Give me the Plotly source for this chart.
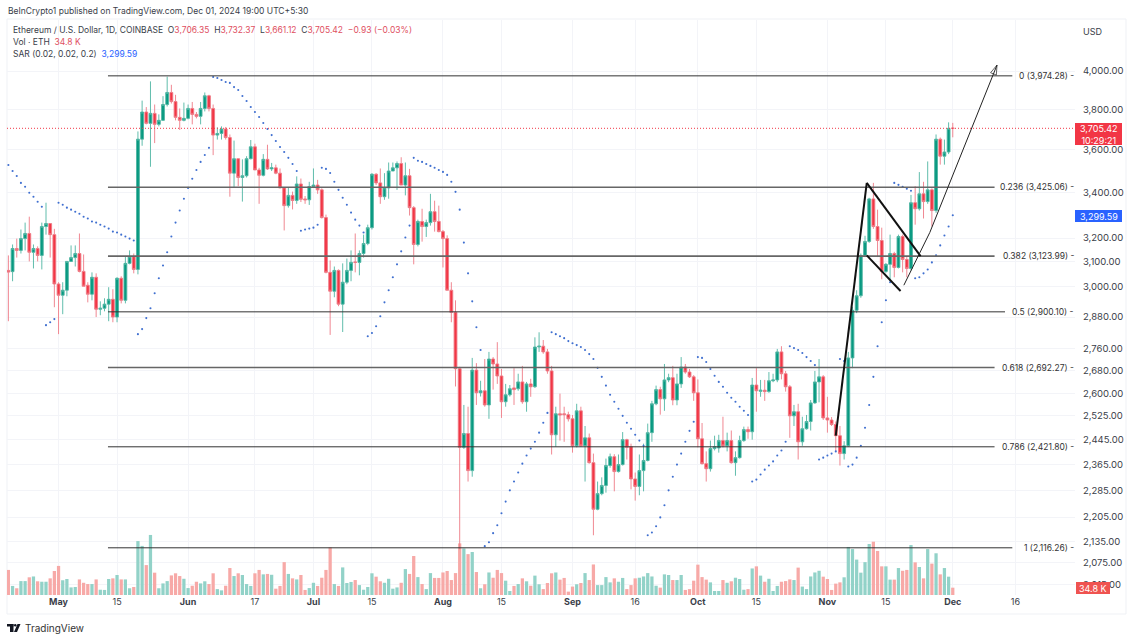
import math
import pandas as pd
import plotly.graph_objects as go

W, H = 1133, 640

# daily ETH/USD candles, 2024-04-19 .. 2024-12-01
opens = [3065,3060,3156,3148,3198,3220,3140,3156,3127,3250,
         3263,3215,3010,2965,2985,3102,3118,3135,3061,3005,
         2969,3037,2910,2914,2930,2949,2880,3033,2945,3094,
         3122,3069,3652,3787,3730,3780,3725,3745,3825,3887,
         3840,3760,3745,3755,3805,3775,3765,3805,3870,3805,
         3672,3680,3702,3660,3490,3558,3470,3478,3558,3615,
         3505,3480,3555,3510,3515,3490,3422,3342,3388,3365,
         3440,3372,3368,3428,3435,3413,3289,3057,2981,3065,
         2930,3017,3065,3100,3098,3135,3177,3245,3485,3445,
         3382,3422,3500,3515,3535,3435,3478,3333,3173,3272,
         3250,3267,3315,3272,3228,3198,2985,2898,2688,2420,
         2465,2346,2683,2603,2610,2561,2723,2705,2662,2572,
         2596,2620,2617,2641,2572,2634,2624,2767,2770,2749,
         2680,2461,2531,2531,2528,2514,2425,2541,2425,2451,
         2371,2228,2275,2300,2362,2390,2343,2365,2445,2422,
         2320,2297,2346,2378,2468,2565,2614,2582,2648,2656,
         2578,2634,2694,2676,2659,2603,2448,2368,2352,2416,
         2418,2442,2425,2442,2371,2387,2442,2478,2471,2630,
         2608,2612,2607,2645,2648,2749,2670,2624,2524,2538,
         2438,2481,2505,2568,2641,2659,2517,2510,2495,2458,
         2400,2425,2727,2906,2963,3127,3186,3372,3250,3190,
         3061,3090,3135,3077,3207,3110,3073,3355,3328,3395,
         3360,3413,3320,3652,3570,3590,3706.35]
highs = [3127,3173,3198,3237,3267,3293,3173,3165,3267,3355,
         3263,3240,3017,3017,3102,3169,3169,3220,3131,3017,
         3057,3053,2941,2953,2997,2989,3037,3041,3122,3148,
         3135,3690,3845,3812,3945,3825,3775,3868,3970,3927,
         3875,3805,3835,3825,3838,3787,3838,3887,3875,3825,
         3710,3715,3712,3675,3645,3558,3555,3570,3648,3630,
         3515,3580,3625,3538,3530,3512,3425,3425,3405,3475,
         3465,3385,3450,3512,3459,3420,3302,3106,3081,3069,
         3094,3114,3148,3220,3148,3215,3258,3490,3490,3512,
         3490,3540,3540,3545,3565,3540,3510,3340,3280,3328,
         3280,3395,3364,3342,3235,3212,3017,2945,2695,2561,
         2555,2727,2708,2645,2723,2749,2730,2785,2687,2634,
         2630,2690,2670,2698,2641,2652,2803,2822,2793,2760,
         2698,2555,2600,2555,2538,2527,2565,2555,2490,2465,
         2400,2312,2325,2384,2400,2398,2397,2470,2448,2432,
         2340,2397,2432,2498,2575,2628,2624,2705,2670,2698,
         2670,2730,2705,2687,2665,2650,2500,2407,2442,2458,
         2461,2521,2468,2475,2407,2458,2488,2488,2655,2690,
         2648,2648,2676,2670,2760,2770,2680,2630,2561,2565,
         2521,2527,2578,2680,2723,2665,2589,2520,2505,2490,
         2440,2749,2920,2985,3135,3210,3377,3445,3324,3245,
         3095,3215,3142,3215,3215,3120,3390,3430,3495,3450,
         3545,3420,3675,3660,3650,3735,3732.37]
lows = [2864,3021,3118,3135,3148,3102,3073,3102,3069,3215,
        3118,2918,2815,2891,2961,3102,3081,3057,3001,2937,
        2945,2880,2887,2902,2864,2860,2860,2933,2933,3090,
        3053,3049,3620,3725,3520,3633,3715,3742,3815,3830,
        3745,3697,3740,3750,3725,3755,3725,3790,3790,3575,
        3650,3650,3650,3382,3425,3430,3360,3470,3555,3505,
        3350,3475,3505,3500,3485,3420,3233,3333,3325,3350,
        3358,3350,3345,3428,3395,3285,3053,2812,2957,2922,
        2823,3009,3021,3057,3045,3118,3170,3237,3435,3350,
        3368,3373,3500,3413,3435,3388,3298,3090,3165,3185,
        3205,3254,3228,3225,3077,2985,2860,2625,2112,2415,
        2312,2327,2561,2590,2555,2514,2614,2634,2517,2555,
        2590,2561,2610,2565,2538,2589,2620,2749,2742,2670,
        2397,2422,2442,2438,2505,2403,2420,2422,2312,2368,
        2152,2225,2270,2278,2355,2282,2340,2362,2381,2288,
        2254,2270,2282,2375,2438,2560,2528,2541,2640,2560,
        2560,2620,2670,2655,2575,2420,2365,2312,2343,2410,
        2403,2420,2407,2368,2330,2384,2438,2448,2445,2538,
        2589,2575,2603,2640,2640,2650,2607,2451,2490,2381,
        2425,2478,2475,2565,2570,2510,2468,2490,2407,2362,
        2381,2422,2690,2895,2955,3120,3180,3240,3120,3029,
        3055,3021,3037,3073,3057,3037,3065,3258,3320,3285,
        3350,3250,3310,3530,3530,3580,3661.12]
closes = [3058,3156,3148,3198,3220,3140,3156,3127,3250,3263,
          3215,3010,2965,2985,3102,3118,3135,3061,3001,2969,
          3037,2910,2914,2930,2949,2880,3033,2945,3094,3122,
          3069,3652,3787,3730,3780,3725,3745,3825,3887,3840,
          3760,3745,3755,3805,3775,3765,3805,3870,3805,3672,
          3680,3702,3660,3490,3558,3470,3478,3558,3615,3505,
          3480,3555,3510,3515,3490,3422,3342,3388,3365,3440,
          3370,3368,3428,3435,3413,3289,3057,2981,3065,2930,
          3017,3065,3098,3098,3135,3177,3245,3485,3445,3382,
          3422,3500,3515,3535,3435,3478,3333,3173,3272,3250,
          3267,3315,3272,3228,3198,2985,2898,2688,2420,2465,
          2346,2683,2603,2610,2561,2723,2705,2662,2572,2596,
          2617,2614,2641,2572,2634,2624,2767,2770,2749,2680,
          2461,2531,2527,2528,2514,2425,2541,2425,2451,2371,
          2228,2275,2300,2362,2390,2343,2365,2445,2420,2320,
          2297,2346,2378,2468,2565,2614,2582,2648,2656,2578,
          2634,2694,2676,2659,2603,2448,2368,2352,2416,2422,
          2442,2425,2442,2371,2387,2442,2478,2471,2630,2610,
          2612,2607,2645,2648,2749,2670,2624,2524,2538,2438,
          2481,2505,2568,2641,2659,2517,2510,2495,2458,2400,
          2425,2727,2906,2963,3127,3186,3372,3250,3190,3061,
          3090,3135,3077,3207,3110,3073,3355,3328,3395,3360,
          3413,3320,3652,3570,3590,3705,3705.42]
# volume in thousands of ETH
volume_k = [119,43,32,66,66,84,88,65,63,63,79,114,138,70,76,36,38,74,58,52,
            52,74,25,24,76,79,95,74,74,32,38,256,233,142,285,106,32,55,66,93,
            103,90,77,33,44,63,55,65,52,103,28,22,44,128,90,103,95,52,43,103,
            119,98,100,96,30,43,156,100,79,74,95,24,33,58,43,82,119,226,52,43,
            131,57,62,71,47,25,38,103,87,65,58,77,30,36,58,123,100,185,85,52,
            28,104,81,81,107,114,71,104,245,221,194,204,109,32,51,107,82,119,104,68,
            19,43,52,79,65,44,92,51,28,57,103,107,73,81,16,40,51,57,104,71,
            145,47,47,85,60,79,63,81,28,47,79,82,88,104,88,44,35,98,95,71,
            71,95,24,28,68,144,85,73,60,19,19,71,58,65,82,76,25,28,126,136,
            92,63,77,19,43,63,66,74,71,130,40,28,88,107,115,87,76,24,54,60,
            84,228,218,168,106,156,242,253,209,136,136,73,73,128,115,119,237,155,133,79,
            218,149,198,98,128,87,34.8]
# parabolic SAR, one value per candle
sar = [3528,3500,3477,3445,3427,3400,3382,3359,3337,2849,2860,2872,
       3355,3346,3333,3324,3315,3306,3293,3285,3272,3267,3258,3250,3241,3228,3224,3215,3207,3198,3190,
       2815,2834,2876,2914,2973,3033,3085,3140,3207,3267,3320,3373,3422,3464,3505,3543,3576,3610,
       3968,3963,3952,3942,3937,3915,3900,3869,3843,3812,3787,3762,3732,3702,3672,3643,3614,3590,3562,3533,3500,
       3232,3237,3241,3245,3258,
       3515,3510,3491,3450,3413,3377,3346,3311,3280,3254,3224,
       2807,2819,2845,2883,2937,2985,3037,3090,3144,3203,3254,
       3562,3548,3543,3533,3524,3515,3505,3496,3482,3450,3404,3324,3181,3053,2941,2841,2756,
       2121,2132,2158,2181,2216,2251,2285,2312,2340,2368,2394,2416,2438,2468,2501,2534,
       2822,2815,2807,2800,2789,2781,2774,2767,2756,2741,2723,2691,2659,2628,2596,2572,2548,2524,2501,2481,2461,2442,2425,
       2152,2160,2178,2204,2240,2285,2327,2365,2400,2438,2474,2504,
       2730,2727,2712,2687,2663,2641,2624,2603,2586,2572,2555,2541,2527,
       2312,2318,2334,2349,2362,2375,2394,2410,2438,
       2770,2763,2756,2745,2730,2716,2701,
       2381,2387,2394,2400,2407,
       2723,2716,
       2359,2365,2387,2425,2484,2561,2659,2770,2860,2945,3017,
       3445,3436,3427,3418,3409,
       3033,3037,3053,3069,3098,3127,3169,3211,3250,3299.59]

fib_levels = [3974.28, 3425.06, 3123.99, 2900.10, 2692.27, 2421.80, 2116.26]
fib_names = ["0", "0.236", "0.382", "0.5", "0.618", "0.786", "1"]
fib_ends = ["2024-12-15 06:00", "2024-12-11 00:00", "2024-12-11 00:00", "2024-12-13 12:00",
            "2024-12-11 00:00", "2024-12-11 00:00", "2024-12-15 06:00"]
fib_colors = ["#333", "#666", "#666", "#333", "#666", "#333", "#333"]
fib_widths = [1, 1.6, 1.6, 1, 1.6, 1, 1]
fib_start = "2024-05-12 20:00"

# hand drawn flag and arrow
pole_x, pole_y = ["2024-11-03 00:00", "2024-11-10 10:00"], [2458, 3445]
flag_top_x, flag_top_y = ["2024-11-10 10:00", "2024-11-23 07:00"], [3445, 3124]
flag_low_x, flag_low_y = ["2024-11-10 10:00", "2024-11-18 12:00"], [3127, 2982]
arrow_x, arrow_y = ["2024-11-19 07:00", "2024-11-25 12:00", "2024-12-11 14:00"], [3005, 3224, 4032]

price_ticks = [4000, 3800, 3600, 3400, 3200, 3100, 3000, 2880, 2760, 2680, 2600,
               2525, 2445, 2365, 2285, 2205, 2135, 2075, 2015]
date_ticks = ["2024-05-01", "2024-05-15", "2024-06-01", "2024-06-17", "2024-07-01", "2024-07-15",
              "2024-08-01", "2024-08-15", "2024-09-01", "2024-09-16", "2024-10-01", "2024-10-15",
              "2024-11-01", "2024-11-15", "2024-12-01", "2024-12-16"]
date_labels = ["<b>May</b>", "15", "<b>Jun</b>", "17", "<b>Jul</b>", "15", "<b>Aug</b>", "15",
               "<b>Sep</b>", "16", "<b>Oct</b>", "15", "<b>Nov</b>", "15", "<b>Dec</b>", "16"]

assert len(opens) == len(highs) == len(lows) == len(closes) == len(volume_k) == len(sar)
dates = pd.date_range("2024-04-19", periods=len(closes))

GREEN, RED, BLUE = "#089981", "#f23645", "#2962ff"
FONT = "Inter"
TXT = "#3a3e49"
GRID = "#f3f4f8"


def px(x):
    return x / W


def py(y):
    return 1 - y / H


fig = go.Figure()

bar_colors = ["#f7a9a7" if c < o else "#92d2c8" for o, c in zip(opens, closes)]
fig.add_trace(go.Bar(x=dates, y=volume_k, marker=dict(color=bar_colors, line_width=0), yaxis="y"))

fig.add_trace(go.Candlestick(
    x=dates, open=opens, high=highs, low=lows, close=closes, yaxis="y2", whiskerwidth=0,
    increasing=dict(line=dict(color="#4fb5a3", width=0.9), fillcolor=GREEN),
    decreasing=dict(line=dict(color="#ee7a86", width=0.9), fillcolor=RED),
))

fig.add_trace(go.Scatter(x=dates, y=sar, mode="markers", yaxis="y2",
                         marker=dict(size=2.1, color="#3f6fd0")))

# last price line
fig.add_trace(go.Scatter(x=["2024-04-18 16:00", "2024-12-30 06:00"], y=[closes[-1], closes[-1]], mode="lines",
                         yaxis="y2", line=dict(color=RED, width=1, dash="1px 2px")))

for lvl, end, col, lw in zip(fib_levels, fib_ends, fib_colors, fib_widths):
    fig.add_trace(go.Scatter(x=[fib_start, end], y=[lvl, lvl], mode="lines", yaxis="y2",
                             line=dict(color=col, width=lw)))

for xs, ys in [(pole_x, pole_y), (flag_top_x, flag_top_y), (flag_low_x, flag_low_y)]:
    fig.add_trace(go.Scatter(x=xs, y=ys, mode="lines", yaxis="y2", line=dict(color="#111", width=2)))
fig.add_trace(go.Scatter(x=arrow_x, y=arrow_y, mode="lines+markers", yaxis="y2",
                         line=dict(color="#222", width=1),
                         marker=dict(symbol="arrow-open", angleref="previous", size=[0, 0, 10],
                                     color="#222", line=dict(color="#222", width=1))))

annotations = []


def note(x, y, text, size=8.5, color=TXT, anchor="left", **kw):
    annotations.append(dict(x=px(x), y=py(y), xref="paper", yref="paper", text=text, showarrow=False,
                            xanchor=anchor, yanchor="middle", align=anchor,
                            font=dict(family=FONT, size=size, color=color), **kw))


for name, lvl in zip(fib_names, fib_levels):
    y = 71 + 749 * math.log(4000 / lvl)
    note(1076, y, f"{name} ({lvl:,.2f}) -", anchor="right", color="#333")

red_txt = "#e0505f"
note(6, 11, "BeInCrypto1 published on TradingView.com, Dec 01, 2024 19:00 UTC+5:30")
note(11, 30,
     f'Ethereum / U.S. Dollar, 1D, COINBASE  O<span style="color:{red_txt}">3,706.35</span> '
     f' H<span style="color:{red_txt}">3,732.37</span>  L<span style="color:{red_txt}">3,661.12</span> '
     f' C<span style="color:{red_txt}">3,705.42  −0.93 (−0.03%)</span>')
note(11, 42, f'Vol · ETH  <span style="color:{red_txt}">34.8 K</span>')
note(11, 54, f'SAR (0.02, 0.02, 0.2)  <span style="color:{BLUE}">3,299.59</span>')
note(1092, 31, "USD", size=9, anchor="center")
note(1098.5, 134, "3,705.42<br>10:29:21", size=9, color="#fff", anchor="center")
note(1098.5, 216, "3,299.59", size=9, color="#fff", anchor="center")
note(1093, 588, "34.8 K", size=9, color="#fff", anchor="center")
note(23, 628, "TradingView", size=10, color="#333")

shapes = [
    dict(type="rect", xref="paper", yref="paper", x0=px(7), x1=px(1126), y0=py(614), y1=py(19),
         line=dict(color="#eff1f5", width=1), layer="below"),
    dict(type="rect", xref="paper", yref="paper", x0=px(1075), x1=px(1122), y0=py(145), y1=py(123),
         fillcolor=RED, line_width=0),
    dict(type="rect", xref="paper", yref="paper", x0=px(1075), x1=px(1122), y0=py(222), y1=py(210),
         fillcolor=BLUE, line_width=0),
    dict(type="rect", xref="paper", yref="paper", x0=px(1076), x1=px(1110), y0=py(594), y1=py(582),
         fillcolor="#ef5350", line_width=0),
    # TradingView logo
    dict(type="rect", xref="paper", yref="paper", x0=px(7), x1=px(13.5), y0=py(626.5), y1=py(624),
         fillcolor="#131722", line_width=0),
    dict(type="rect", xref="paper", yref="paper", x0=px(10), x1=px(13.5), y0=py(632), y1=py(624),
         fillcolor="#131722", line_width=0),
    dict(type="circle", xref="paper", yref="paper", x0=px(14), x1=px(16.5), y0=py(626.5), y1=py(624),
         fillcolor="#131722", line_width=0),
    dict(type="path", xref="paper", yref="paper",
         path=f"M {px(14)} {py(632)} L {px(17)} {py(632)} L {px(20.5)} {py(624)} L {px(17.5)} {py(624)} Z",
         fillcolor="#131722", line_width=0),
]

fig.update_layout(
    width=W, height=H, autosize=False, margin=dict(l=0, r=0, t=0, b=0),
    paper_bgcolor="white", plot_bgcolor="white", showlegend=False, hovermode=False,
    bargap=0.22, boxgap=0.32, boxgroupgap=0, annotations=annotations, shapes=shapes,
    xaxis=dict(type="date", domain=[px(7), px(1075)], range=["2024-04-18 16:00", "2024-12-30 06:00"],
               rangeslider=dict(visible=False), tickmode="array", tickvals=date_ticks, ticktext=date_labels,
               ticks="", showline=False, showgrid=True, gridcolor=GRID, gridwidth=1, zeroline=False,
               tickfont=dict(family=FONT, size=9, color=TXT)),
    yaxis=dict(domain=[py(595), py(20)], range=[0, 2729], visible=False, fixedrange=True),
    yaxis2=dict(type="log", overlaying="y", side="right", anchor="x",
                range=[math.log10(1987), math.log10(4282)], tickmode="array", tickvals=price_ticks,
                tickformat=",.2f", ticks="outside", ticklen=5, tickcolor="rgba(0,0,0,0)", showline=False,
                showgrid=True, gridcolor=GRID, gridwidth=1, zeroline=False,
                tickfont=dict(family=FONT, size=9.5, color=TXT)),
)

fig.write_html("out.html", config={"displayModeBar": False}, post_script="document.body.style.margin='0';")
